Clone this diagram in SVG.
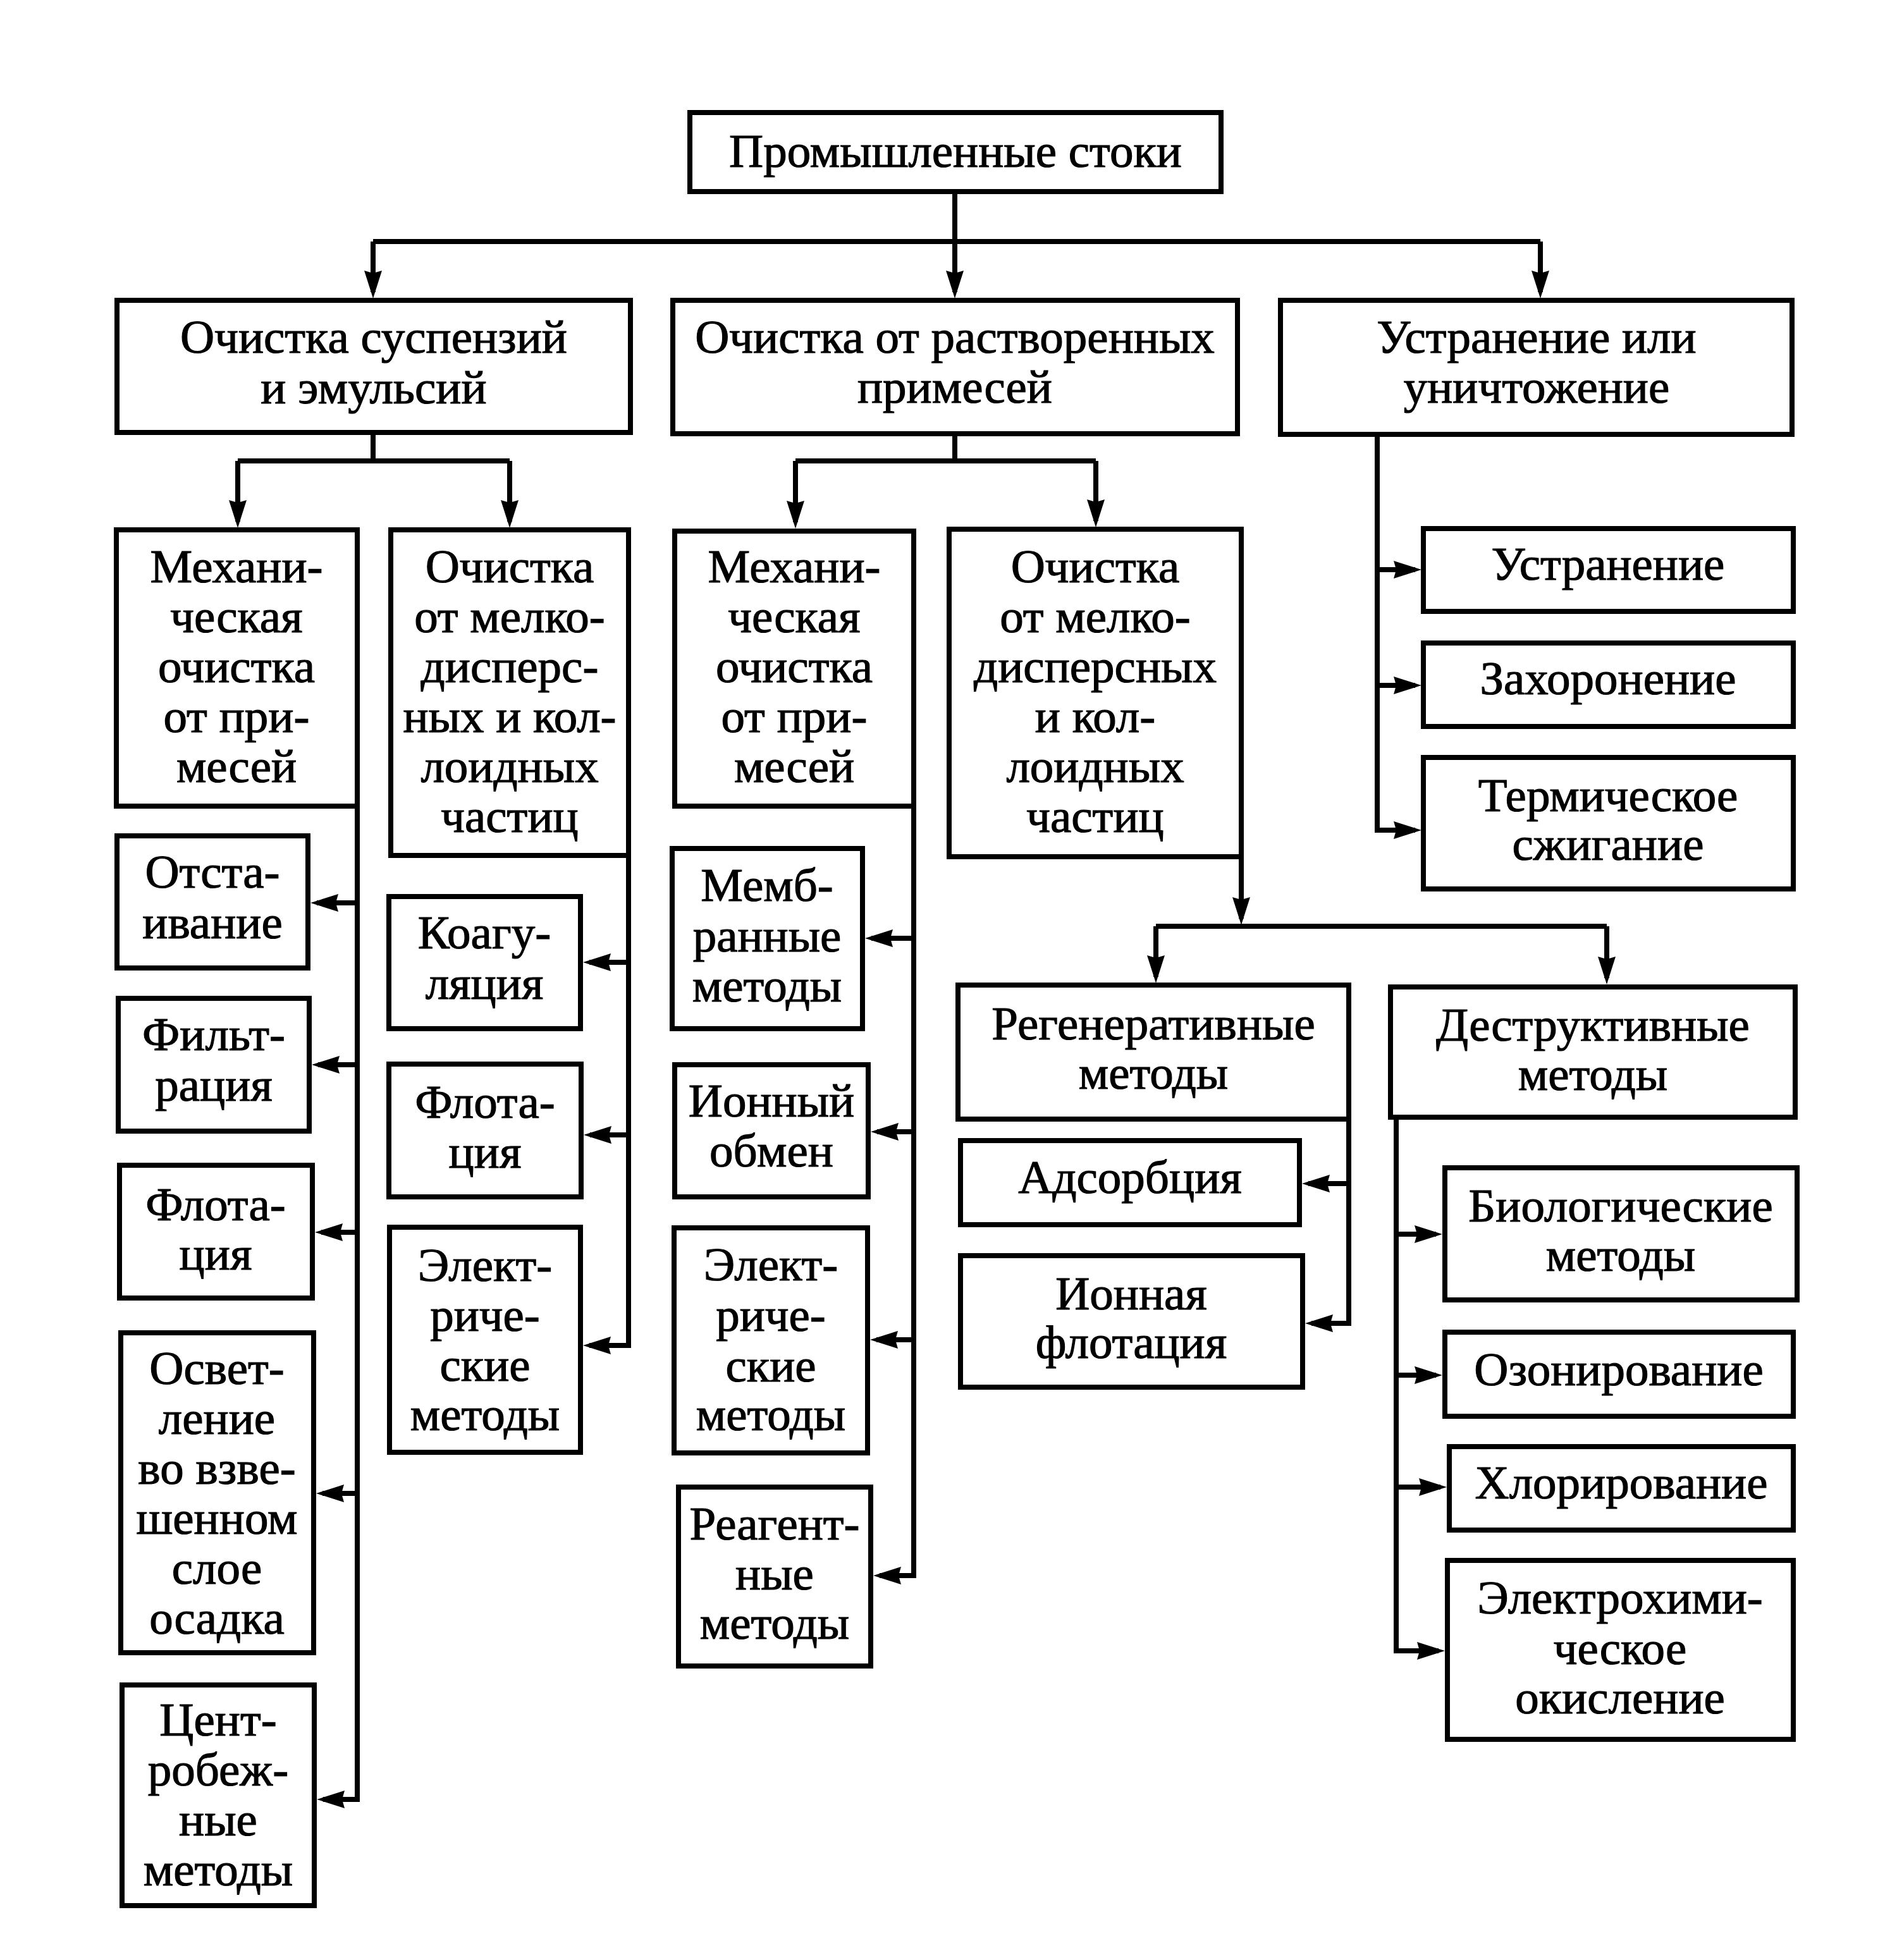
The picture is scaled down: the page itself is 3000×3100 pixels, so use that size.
<svg xmlns="http://www.w3.org/2000/svg" width="3000" height="3100" viewBox="0 0 3000 3100">
<style>
.box{fill:#fff;stroke:#000;stroke-width:8}
.t{font-family:"Liberation Serif","Times New Roman",serif;font-size:75px;text-anchor:middle;fill:#000;stroke:#000;stroke-width:1.2}
.c{fill:none;stroke:#000;stroke-width:8;stroke-linejoin:miter}
.a{marker-end:url(#ah)}
</style>
<defs>
<marker id="ah" markerUnits="userSpaceOnUse" markerWidth="44" markerHeight="28" viewBox="0 0 44 28" refX="34" refY="14" orient="auto">
<path d="M0,0 L44,14 L0,28 L4,14 z" fill="#000"/>
</marker>
</defs>
<rect width="3000" height="3100" fill="#fff"/>
<g id="connectors">
<path class="c a" d="M1510,303 V462"/>
<path class="c" d="M590,382 H2436"/>
<path class="c a" d="M590,382 V462"/>
<path class="c a" d="M2436,382 V462"/>
<path class="c" d="M590,684 V729 M376,729 H806"/>
<path class="c a" d="M376,729 V825"/>
<path class="c a" d="M806,729 V825"/>
<path class="c" d="M1510,686 V729 M1258,729 H1733"/>
<path class="c a" d="M1258,729 V826"/>
<path class="c a" d="M1733,729 V824"/>
<path class="c a" d="M2178,687 V1313 H2238"/>
<path class="c a" d="M2178,901 H2238"/>
<path class="c a" d="M2178,1084 H2238"/>
<path class="c a" d="M565,1275 V2846 H511"/>
<path class="c a" d="M565,1428 H501"/>
<path class="c a" d="M565,1684 H503"/>
<path class="c a" d="M565,1949 H508"/>
<path class="c a" d="M565,2362 H510"/>
<path class="c a" d="M994,1353 V2128 H932"/>
<path class="c a" d="M994,1522 H932"/>
<path class="c a" d="M994,1795 H933"/>
<path class="c a" d="M1445,1275 V2492 H1391"/>
<path class="c a" d="M1445,1484 H1378"/>
<path class="c a" d="M1445,1790 H1387"/>
<path class="c a" d="M1445,2119 H1386"/>
<path class="c a" d="M1963,1355 V1453"/>
<path class="c" d="M1828,1465 H2541"/>
<path class="c a" d="M1828,1465 V1545"/>
<path class="c a" d="M2541,1465 V1547"/>
<path class="c a" d="M2133,1770 V2093 H2074"/>
<path class="c a" d="M2133,1872 H2069"/>
<path class="c a" d="M2208,1767 V2611 H2275"/>
<path class="c a" d="M2208,1952 H2271"/>
<path class="c a" d="M2208,2175 H2271"/>
<path class="c a" d="M2208,2352 H2278"/>
</g>
<g id="n0"><rect class="box" x="1091" y="178" width="840" height="125"/><text class="t"><tspan x="1511" y="264">Промышленные стоки</tspan></text></g>
<g id="n1"><rect class="box" x="185" y="475" width="812" height="209"/><text class="t"><tspan x="591" y="558">Очистка суспензий</tspan><tspan x="591" y="638">и эмульсий</tspan></text></g>
<g id="n2"><rect class="box" x="1064" y="475" width="893" height="211"/><text class="t"><tspan x="1510" y="558">Очистка от растворенных</tspan><tspan x="1510" y="637">примесей</tspan></text></g>
<g id="n3"><rect class="box" x="2025" y="475" width="809" height="212"/><text class="t"><tspan x="2430" y="558">Устранение или</tspan><tspan x="2430" y="637">уничтожение</tspan></text></g>
<g id="n1a"><rect class="box" x="184" y="838" width="381" height="437"/><text class="t"><tspan x="374" y="921">Механи-</tspan><tspan x="374" y="1000">ческая</tspan><tspan x="374" y="1079">очистка</tspan><tspan x="374" y="1158">от при-</tspan><tspan x="374" y="1237">месей</tspan></text></g>
<g id="n1b"><rect class="box" x="618" y="838" width="376" height="515"/><text class="t"><tspan x="806" y="921">Очистка</tspan><tspan x="806" y="1000">от мелко-</tspan><tspan x="806" y="1079">дисперс-</tspan><tspan x="806" y="1158">ных и кол-</tspan><tspan x="806" y="1237">лоидных</tspan><tspan x="806" y="1316">частиц</tspan></text></g>
<g id="n2a"><rect class="box" x="1067" y="840" width="378" height="435"/><text class="t"><tspan x="1256" y="921">Механи-</tspan><tspan x="1256" y="1000">ческая</tspan><tspan x="1256" y="1079">очистка</tspan><tspan x="1256" y="1158">от при-</tspan><tspan x="1256" y="1237">месей</tspan></text></g>
<g id="n2b"><rect class="box" x="1501" y="837" width="462" height="518"/><text class="t"><tspan x="1732" y="921">Очистка</tspan><tspan x="1732" y="1000">от мелко-</tspan><tspan x="1732" y="1079">дисперсных</tspan><tspan x="1732" y="1158">и кол-</tspan><tspan x="1732" y="1237">лоидных</tspan><tspan x="1732" y="1316">частиц</tspan></text></g>
<g id="a1"><rect class="box" x="185" y="1322" width="302" height="209"/><text class="t"><tspan x="336" y="1404">Отста-</tspan><tspan x="336" y="1484">ивание</tspan></text></g>
<g id="a2"><rect class="box" x="187" y="1579" width="302" height="210"/><text class="t"><tspan x="338" y="1661">Фильт-</tspan><tspan x="338" y="1741">рация</tspan></text></g>
<g id="a3"><rect class="box" x="189" y="1843" width="305" height="210"/><text class="t"><tspan x="341" y="1930">Флота-</tspan><tspan x="341" y="2008">ция</tspan></text></g>
<g id="a4"><rect class="box" x="191" y="2108" width="305" height="506"/><text class="t"><tspan x="343" y="2189">Освет-</tspan><tspan x="343" y="2268">ление</tspan><tspan x="343" y="2347">во взве-</tspan><tspan x="343" y="2426">шенном</tspan><tspan x="343" y="2505">слое</tspan><tspan x="343" y="2584">осадка</tspan></text></g>
<g id="a5"><rect class="box" x="193" y="2665" width="304" height="349"/><text class="t"><tspan x="345" y="2745">Цент-</tspan><tspan x="345" y="2824">робеж-</tspan><tspan x="345" y="2903">ные</tspan><tspan x="345" y="2982">методы</tspan></text></g>
<g id="b1"><rect class="box" x="615" y="1418" width="303" height="209"/><text class="t"><tspan x="766" y="1500">Коагу-</tspan><tspan x="766" y="1580">ляция</tspan></text></g>
<g id="b2"><rect class="box" x="615" y="1683" width="304" height="210"/><text class="t"><tspan x="767" y="1768">Флота-</tspan><tspan x="767" y="1847">ция</tspan></text></g>
<g id="b3"><rect class="box" x="616" y="1941" width="302" height="356"/><text class="t"><tspan x="767" y="2026">Элект-</tspan><tspan x="767" y="2105">риче-</tspan><tspan x="767" y="2184">ские</tspan><tspan x="767" y="2262">методы</tspan></text></g>
<g id="c1"><rect class="box" x="1063" y="1342" width="301" height="285"/><text class="t"><tspan x="1213" y="1425">Мемб-</tspan><tspan x="1213" y="1505">ранные</tspan><tspan x="1213" y="1584">методы</tspan></text></g>
<g id="c2"><rect class="box" x="1067" y="1684" width="306" height="209"/><text class="t"><tspan x="1220" y="1766">Ионный</tspan><tspan x="1220" y="1845">обмен</tspan></text></g>
<g id="c3"><rect class="box" x="1066" y="1942" width="306" height="356"/><text class="t"><tspan x="1219" y="2025">Элект-</tspan><tspan x="1219" y="2105">риче-</tspan><tspan x="1219" y="2185">ские</tspan><tspan x="1219" y="2262">методы</tspan></text></g>
<g id="c4"><rect class="box" x="1073" y="2352" width="304" height="283"/><text class="t"><tspan x="1225" y="2435">Реагент-</tspan><tspan x="1225" y="2514">ные</tspan><tspan x="1225" y="2592">методы</tspan></text></g>
<g id="d0"><rect class="box" x="1515" y="1558" width="618" height="212"/><text class="t"><tspan x="1824" y="1644">Регенеративные</tspan><tspan x="1824" y="1722">методы</tspan></text></g>
<g id="d1"><rect class="box" x="1519" y="1804" width="536" height="133"/><text class="t"><tspan x="1787" y="1887">Адсорбция</tspan></text></g>
<g id="d2"><rect class="box" x="1519" y="1986" width="541" height="208"/><text class="t"><tspan x="1789" y="2071">Ионная</tspan><tspan x="1789" y="2148">флотация</tspan></text></g>
<g id="e0"><rect class="box" x="2199" y="1561" width="640" height="206"/><text class="t"><tspan x="2519" y="1646">Деструктивные</tspan><tspan x="2519" y="1724">методы</tspan></text></g>
<g id="e1"><rect class="box" x="2285" y="1847" width="557" height="209"/><text class="t"><tspan x="2563" y="1932">Биологические</tspan><tspan x="2563" y="2010">методы</tspan></text></g>
<g id="e2"><rect class="box" x="2285" y="2107" width="551" height="133"/><text class="t"><tspan x="2560" y="2191">Озонирование</tspan></text></g>
<g id="e3"><rect class="box" x="2292" y="2288" width="544" height="132"/><text class="t"><tspan x="2564" y="2370">Хлорирование</tspan></text></g>
<g id="e4"><rect class="box" x="2289" y="2468" width="547" height="283"/><text class="t"><tspan x="2562" y="2552">Электрохими-</tspan><tspan x="2562" y="2632">ческое</tspan><tspan x="2562" y="2710">окисление</tspan></text></g>
<g id="f1"><rect class="box" x="2251" y="836" width="585" height="131"/><text class="t"><tspan x="2543" y="917">Устранение</tspan></text></g>
<g id="f2"><rect class="box" x="2251" y="1017" width="585" height="132"/><text class="t"><tspan x="2543" y="1098">Захоронение</tspan></text></g>
<g id="f3"><rect class="box" x="2251" y="1198" width="585" height="208"/><text class="t"><tspan x="2543" y="1283">Термическое</tspan><tspan x="2543" y="1360">сжигание</tspan></text></g>
</svg>
